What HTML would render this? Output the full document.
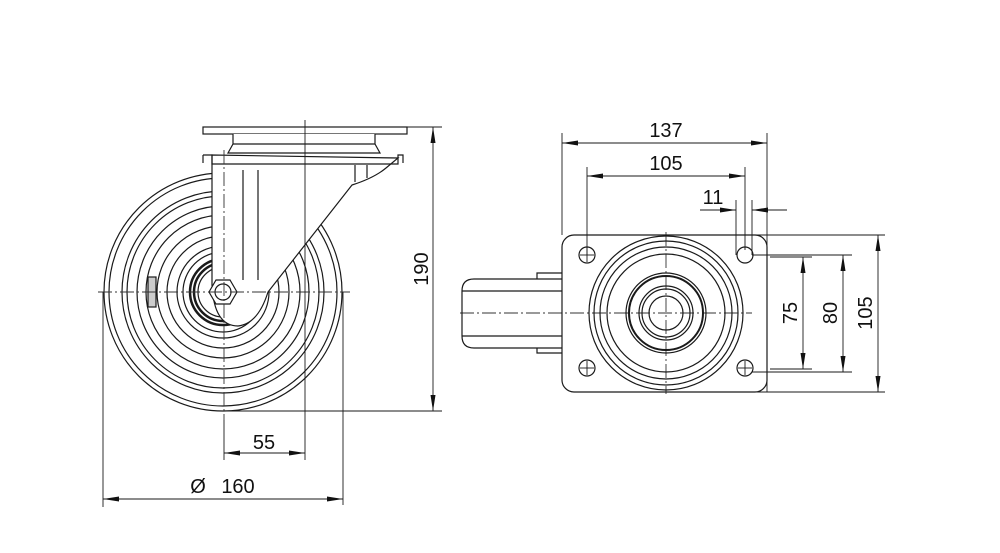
<!DOCTYPE html>
<html><head><meta charset="utf-8"><style>
html,body{margin:0;padding:0;background:#fff;}
svg{display:block;}
text{font-family:"Liberation Sans",sans-serif;font-size:20px;fill:#111;}
</style></head><body>
<svg width="1000" height="553" viewBox="0 0 1000 553" xmlns="http://www.w3.org/2000/svg">
<defs>
<marker id="a" viewBox="0 0 16 5" refX="16" refY="2.5" markerWidth="16" markerHeight="5" orient="auto-start-reverse" markerUnits="userSpaceOnUse"><path d="M0,0L16,2.5L0,5Z" fill="#111"/></marker>
</defs>
<g fill="none" stroke="#1a1a1a" stroke-width="1.2">
<g>
<circle cx="223" cy="292" r="119"/>
<circle cx="223" cy="292" r="114"/>
<circle cx="223" cy="292" r="101"/>
<circle cx="223" cy="292" r="96"/>
<circle cx="223" cy="292" r="86"/>
<circle cx="223" cy="292" r="77"/>
<circle cx="223" cy="292" r="66"/>
<circle cx="223" cy="292" r="56"/>
<circle cx="223" cy="292" r="46"/>
<circle cx="223" cy="292" r="40"/>
<circle cx="223" cy="292" r="33" stroke-width="2.5"/>
<circle cx="223" cy="292" r="29" stroke-width="2.5"/>
<circle cx="223" cy="292" r="25"/>
</g>
<rect x="148" y="277" width="8" height="30" fill="#ccc"/>
<path d="M212,155 L212,285 Q214,326 238,326 Q258,324 268,292 L352,185 Q374,178 386,168 L398,158 Z" fill="#fff"/>
<path d="M203,155 L212,155 L212,164 L398,164 L398,155 L403,155 L403,163" />
<line x1="203" y1="155" x2="203" y2="163"/>
<line x1="243" y1="170" x2="243" y2="280"/>
<line x1="258" y1="170" x2="258" y2="280"/>
<line x1="355" y1="165" x2="355" y2="182"/>
<line x1="367" y1="165" x2="367" y2="178"/>
<rect x="203" y="127" width="204" height="7" fill="#fff"/>
<path d="M233,134 L233,144 L228,153 L380,153 L375,144 L375,134" fill="#fff"/>
<line x1="233" y1="144" x2="375" y2="144"/>
<polygon points="209,292 216,280 230,280 237,292 230,304 216,304" fill="#fff"/>
<circle cx="223" cy="292" r="8"/>
</g>
<g stroke="#333" stroke-width="0.9" stroke-dasharray="14,3,2,3" fill="none">
<line x1="224" y1="150" x2="224" y2="420"/>
<line x1="98" y1="292" x2="350" y2="292"/>
<line x1="460" y1="313" x2="752" y2="313"/>
<line x1="666" y1="232" x2="666" y2="394"/>
</g>
<g stroke="#1a1a1a" stroke-width="0.9" fill="none">
<line x1="305" y1="120" x2="305" y2="460"/>
<line x1="224" y1="420" x2="224" y2="460"/>
<line x1="343" y1="292" x2="343" y2="505"/>
<line x1="103" y1="292" x2="103" y2="507"/>
<line x1="407" y1="127" x2="442" y2="127"/>
<line x1="223" y1="411" x2="442" y2="411"/>
<line x1="433" y1="127" x2="433" y2="411" marker-start="url(#a)" marker-end="url(#a)"/>
<line x1="224" y1="453" x2="305" y2="453" marker-start="url(#a)" marker-end="url(#a)"/>
<line x1="103" y1="499" x2="343" y2="499" marker-start="url(#a)" marker-end="url(#a)"/>
</g>
<text x="264" y="449" text-anchor="middle">55</text>
<text x="198" y="493" text-anchor="middle">Ø</text>
<text x="238" y="493" text-anchor="middle">160</text>
<text transform="translate(428,269) rotate(-90)" text-anchor="middle">190</text>

<g fill="none" stroke="#1a1a1a" stroke-width="1.2">
<path d="M562,279 L474,279 Q462,279 462,291 L462,336 Q462,348 474,348 L562,348"/>
<path d="M537,279 L537,273 L562,273 M537,348 L537,353 L562,353"/>
<line x1="462" y1="291" x2="562" y2="291"/>
<line x1="462" y1="336" x2="562" y2="336"/>
<rect x="562" y="235" width="205" height="157" rx="12"/>
<circle cx="666" cy="313" r="77"/>
<circle cx="666" cy="313" r="72"/>
<circle cx="666" cy="313" r="66"/>
<circle cx="666" cy="313" r="59"/>
<circle cx="666" cy="313" r="40"/>
<circle cx="666" cy="313" r="37" stroke-width="2"/>
<circle cx="666" cy="313" r="27"/>
<circle cx="666" cy="313" r="24"/>
<circle cx="666" cy="313" r="17"/>
<circle cx="587" cy="255" r="8"/>
<circle cx="745" cy="255" r="8"/>
<circle cx="587" cy="368" r="8"/>
<circle cx="745" cy="368" r="8"/>
</g>
<g stroke="#1a1a1a" stroke-width="0.9" fill="none">
<line x1="580" y1="255" x2="594" y2="255"/><line x1="587" y1="248" x2="587" y2="262"/>
<line x1="580" y1="368" x2="594" y2="368"/><line x1="587" y1="361" x2="587" y2="375"/>
<line x1="738" y1="368" x2="752" y2="368"/><line x1="745" y1="361" x2="745" y2="375"/>
<line x1="562" y1="133" x2="562" y2="235"/>
<line x1="767" y1="133" x2="767" y2="392"/>
<line x1="562" y1="143" x2="767" y2="143" marker-start="url(#a)" marker-end="url(#a)"/>
<line x1="587" y1="167" x2="587" y2="255"/>
<line x1="745" y1="167" x2="745" y2="250"/>
<line x1="587" y1="176" x2="745" y2="176" marker-start="url(#a)" marker-end="url(#a)"/>
<line x1="736" y1="200" x2="736" y2="255"/>
<line x1="752" y1="200" x2="752" y2="255"/>
<line x1="700" y1="210" x2="736" y2="210" marker-end="url(#a)"/>
<line x1="787" y1="210" x2="752" y2="210" marker-end="url(#a)"/>
<line x1="745" y1="235" x2="885" y2="235"/>
<line x1="745" y1="392" x2="885" y2="392"/>
<line x1="752" y1="255" x2="852" y2="255"/>
<line x1="752" y1="372" x2="852" y2="372"/>
<line x1="770" y1="257" x2="812" y2="257"/>
<line x1="770" y1="369" x2="812" y2="369"/>
<line x1="803" y1="257" x2="803" y2="369" marker-start="url(#a)" marker-end="url(#a)"/>
<line x1="843" y1="255" x2="843" y2="372" marker-start="url(#a)" marker-end="url(#a)"/>
<line x1="878" y1="235" x2="878" y2="392" marker-start="url(#a)" marker-end="url(#a)"/>
</g>
<text x="666" y="137" text-anchor="middle">137</text>
<text x="666" y="170" text-anchor="middle">105</text>
<text x="713" y="204" text-anchor="middle">11</text>
<text transform="translate(797,313) rotate(-90)" text-anchor="middle">75</text>
<text transform="translate(837,313) rotate(-90)" text-anchor="middle">80</text>
<text transform="translate(872,313) rotate(-90)" text-anchor="middle">105</text>
</svg>
</body></html>
